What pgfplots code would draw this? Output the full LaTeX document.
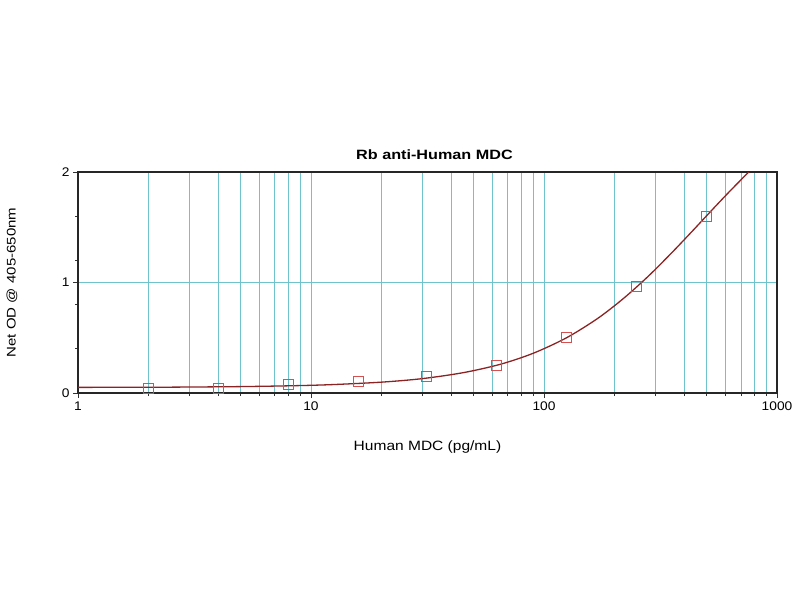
\documentclass[border=0pt]{standalone}
\usepackage{fontspec}
\setmainfont{Liberation Sans}
\newfontfamily\titlefont[FakeStretch=1.2]{Liberation Sans}
\newfontfamily\labelfont[FakeStretch=1.15]{Liberation Sans}
\newfontfamily\tickfont[FakeStretch=1.1]{Liberation Sans}
\usepackage{pgfplots}
\pgfplotsset{compat=1.18}
\definecolor{gridc}{RGB}{110,195,205}
\definecolor{fitc}{RGB}{140,35,35}
\definecolor{markc}{RGB}{215,80,80}
\begin{document}
\begin{tikzpicture}
\useasboundingbox (-78pt,-207pt) rectangle (722pt,393pt);
\begin{axis}[
    at={(0,0)}, anchor=south west,
    scale only axis,
    width=699pt, height=221pt,
    xmode=log, log basis x=10,
    xmin=1, xmax=1000, ymin=0, ymax=2,
    xtick={1,10,100,1000},
    xticklabels={1,10,100,1000},
    minor xtick={2,3,4,5,6,7,8,9,20,30,40,50,60,70,80,90,200,300,400,500,600,700,800,900},
    ytick={0,1,2},
    minor ytick={0.4,0.8,1.2,1.6},
    xtick pos=left, ytick pos=left,
    xminorgrids=true, xmajorgrids=true, ymajorgrids=true, yminorgrids=false,
    minor x grid style={gridc, line width=0.8pt},
    major x grid style={gridc, line width=0.8pt},
    major y grid style={gridc, line width=0.8pt},
    axis line style={black!85, line width=1.6pt},
    tick align=outside,
    major tick length=5pt, minor tick length=3pt,
    tick style={black!80, line width=0.8pt},
    ticklabel style={font=\tickfont\fontsize{12.5}{14}\selectfont},
    /pgf/number format/assume math mode=true,
    title={Rb anti-Human MDC},
    title style={at={([xshift=7pt]axis description cs:0.5,1)}, anchor=south, yshift=3pt, font=\titlefont\bfseries\fontsize{13.5}{15}\selectfont},
    xlabel={Human MDC (pg/mL)},
    xlabel style={at={([yshift=-54pt]axis description cs:0.5,0)}, anchor=center, font=\labelfont\fontsize{13.5}{15}\selectfont},
    ylabel={Net OD @ 405-650nm},
    ylabel style={at={([xshift=-66pt]axis description cs:0,0.5)}, anchor=center, font=\titlefont\fontsize{12.5}{14}\selectfont},
]
% fitted curve
\addplot[fitc, line width=1.3pt, smooth] coordinates {
(1,0.051) (2,0.052) (3,0.054) (5,0.058) (8,0.065) (12,0.075) (20,0.098)
(30,0.130) (45,0.184) (65,0.260) (90,0.360) (125,0.500) (170,0.675)
(220,0.858) (280,1.056) (350,1.260) (430,1.458) (520,1.645) (620,1.815)
(740,1.980) (760,2.004)
};
% standards
\addplot[only marks, mark=square, mark size=5pt, markc, line width=1pt] coordinates {
(2,0.04) (4,0.04) (8,0.08) (16,0.10) (31.25,0.15) (62.5,0.25)
(125,0.50) (250,0.96) (500,1.60)
};
\end{axis}
\end{tikzpicture}
\end{document}
